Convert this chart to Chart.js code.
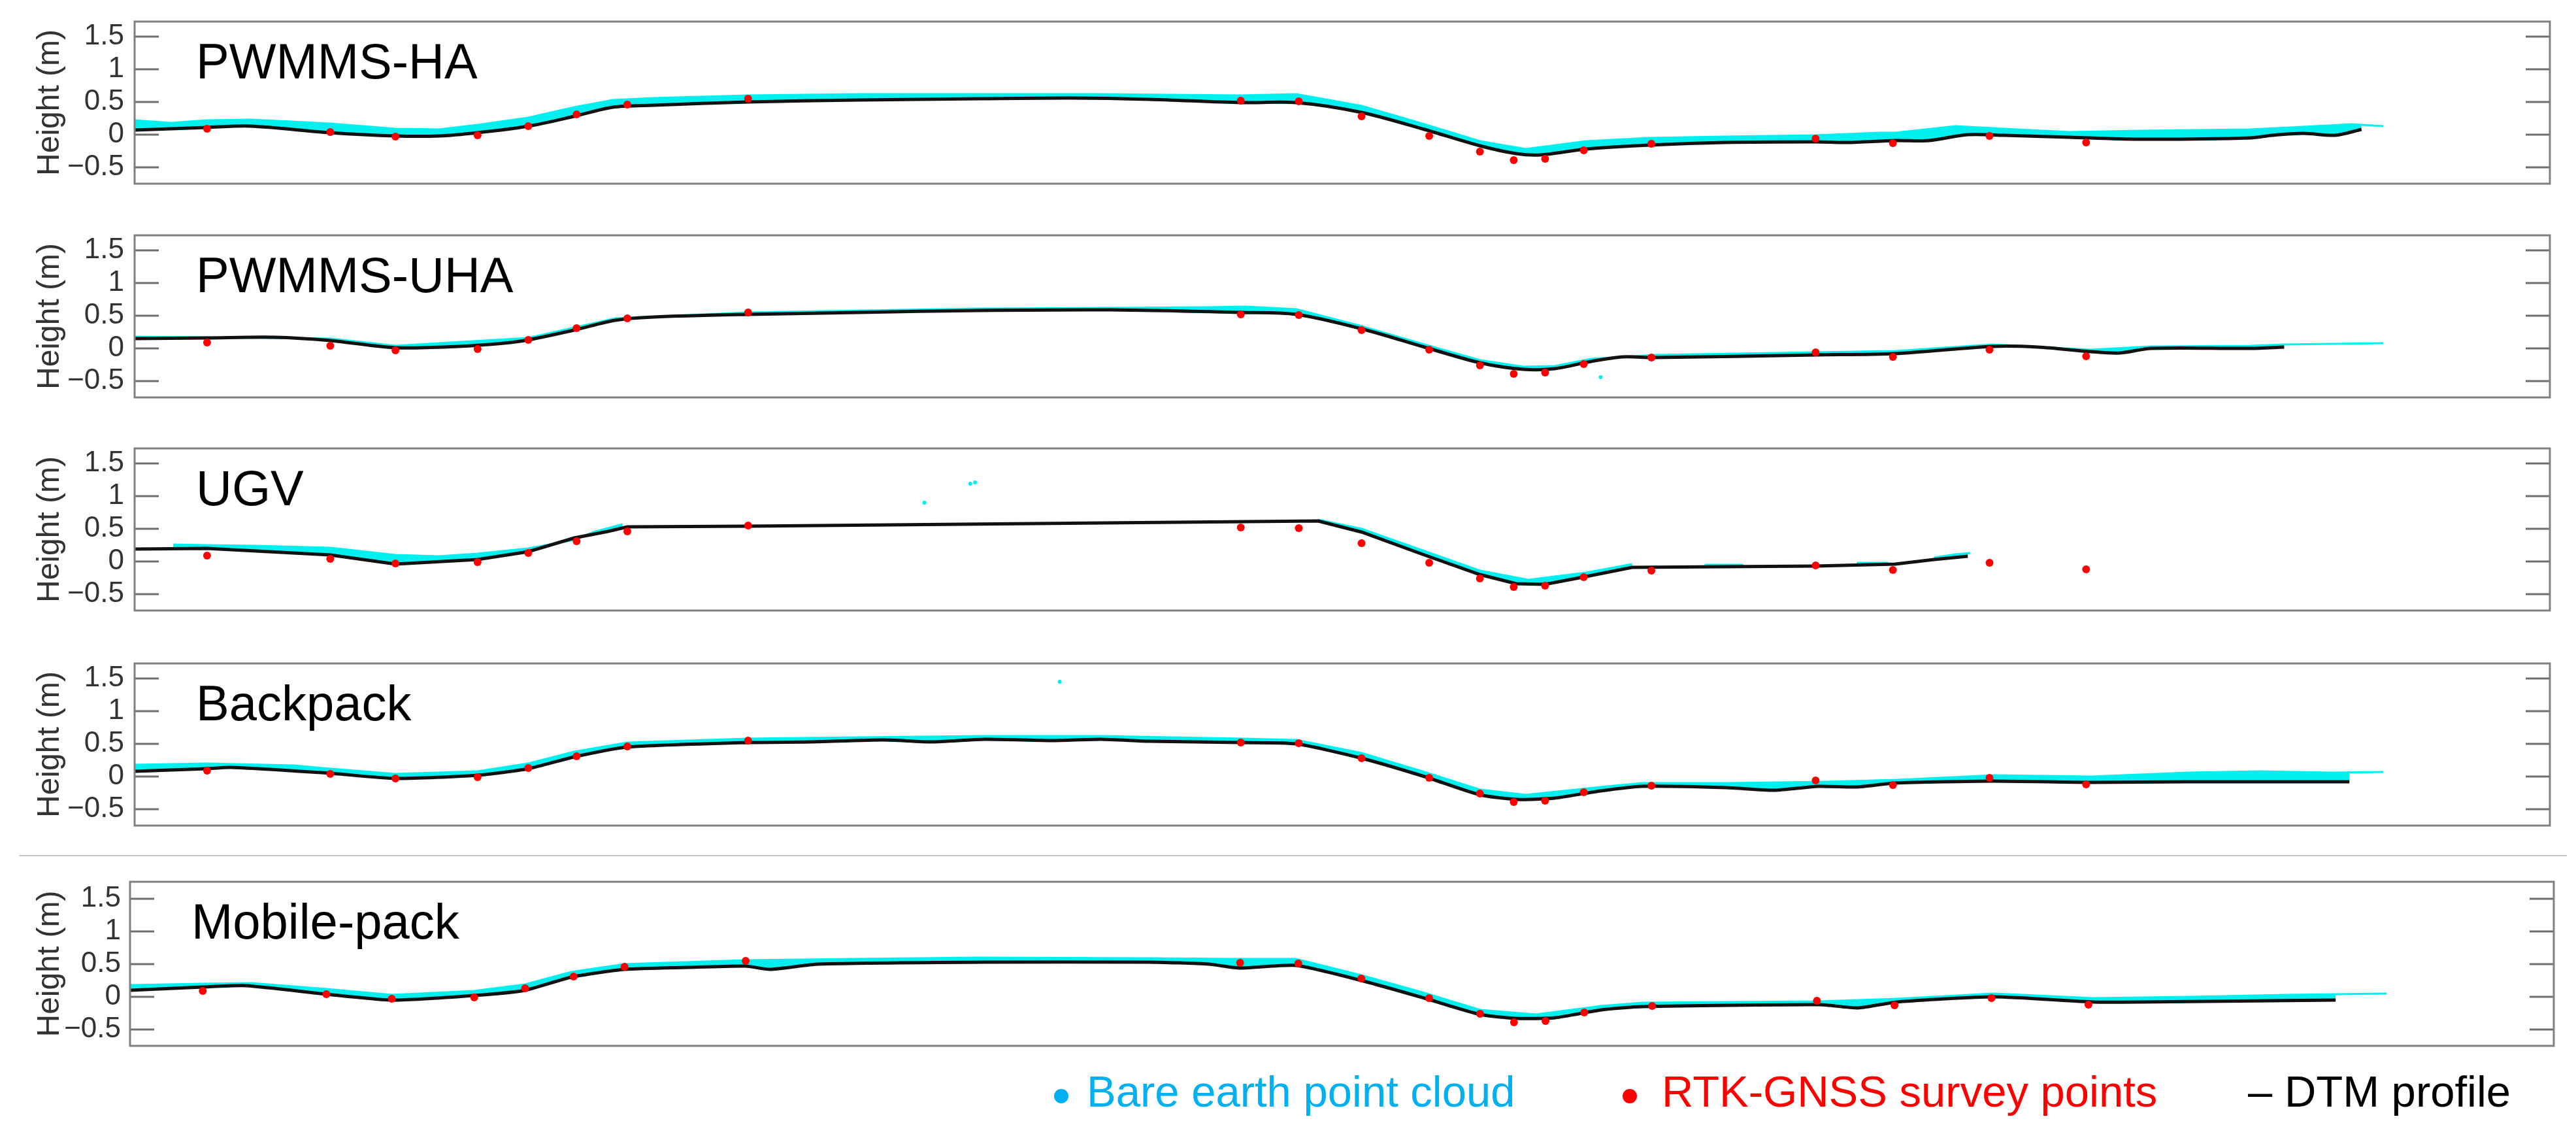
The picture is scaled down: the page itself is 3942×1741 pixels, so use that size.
<!DOCTYPE html>
<html>
<head>
<meta charset="utf-8">
<title>Height profiles</title>
<script src="https://cdn.jsdelivr.net/npm/chart.js@4.4.1/dist/chart.umd.min.js"></script>
<style>
  body { margin: 0; background: #fff; width: 3942px; height: 1741px; position: relative; overflow: hidden;
         font-family: "Liberation Sans", Arial, Helvetica, sans-serif; }
  canvas.panel { position: absolute; left: 0; }
  .sep { position: absolute; left: 29px; top: 1308px; width: 3899px; height: 2px; background: #c8c8c8; }
  .leg { position: absolute; top: 1636px; font-size: 67px; line-height: 67px; white-space: nowrap; }
  .dot { position: absolute; width: 22px; height: 22px; border-radius: 50%; top: 1666px; }
</style>
</head>
<body>

<canvas id="c1" class="panel"></canvas>
<canvas id="c2" class="panel"></canvas>
<canvas id="c3" class="panel"></canvas>
<canvas id="c4" class="panel"></canvas>
<div class="sep"></div>
<canvas id="c5" class="panel"></canvas>

<span class="dot" style="left:1613px;background:#00b0f0"></span>
<div class="leg" style="left:1663px;color:#00b0f0">Bare earth point cloud</div>
<span class="dot" style="left:2483px;background:#ff0000"></span>
<div class="leg" style="left:2543px;color:#ff0000">RTK-GNSS survey points</div>
<div class="leg" style="left:3440px;color:#000">&ndash; DTM profile</div>

<script>
/* ── DATA ─────────────────────────────────────────────────── */
// distance along the profile (arbitrary units 0–100), heights in m
const yTickValues = [-0.5, 0, 0.5, 1, 1.5];
const yTickLabels = ['\u22120.5', '0', '0.5', '1', '1.5'];

// RTK-GNSS survey points (same in every panel)
const rtkX = [3.0, 8.1, 10.8, 14.2, 16.3, 18.3, 20.4, 25.4, 45.8, 48.2, 50.8, 53.6, 55.7, 57.1, 58.4, 60.0, 62.8, 69.6, 72.8, 76.8, 80.8];
const rtkY = [0.09, 0.04, -0.03, -0.01, 0.13, 0.31, 0.46, 0.55, 0.52, 0.51, 0.28, -0.02, -0.26, -0.39, -0.37, -0.24, -0.14, -0.06, -0.13, -0.02, -0.12];

// PWMMS-HA
const haDtmX = [0, 3.0, 4.8, 8.1, 10.8, 12.6, 14.2, 16.3, 18.2, 19.8, 21.5, 25.4, 30.0, 35.0, 38.8, 42.0, 45.8, 48.1, 50.8, 53.4, 55.7, 57.2, 58.2, 60.1, 62.7, 65.8, 69.6, 70.9, 72.9, 74.3, 75.9, 77.4, 80.1, 83.0, 87.6, 88.5, 89.8, 91.1, 92.2];
const haDtmY = [0.07, 0.11, 0.13, 0.03, -0.02, -0.02, 0.03, 0.13, 0.28, 0.42, 0.45, 0.50, 0.53, 0.55, 0.56, 0.54, 0.49, 0.49, 0.34, 0.08, -0.17, -0.29, -0.31, -0.22, -0.16, -0.12, -0.11, -0.12, -0.09, -0.09, 0.0, -0.01, -0.04, -0.07, -0.05, -0.01, 0.02, -0.01, 0.08];
const haCloudX = [0, 1.5, 3.0, 4.8, 6.5, 8.1, 10.8, 12.6, 14.2, 16.3, 18.2, 19.8, 21.5, 25.4, 30.0, 35.0, 40.0, 45.8, 48.1, 50.8, 53.4, 55.7, 57.6, 60.1, 62.7, 65.8, 69.6, 72.3, 72.9, 75.4, 77.4, 80.1, 83.0, 87.6, 89.8, 91.8, 93.1];
const haCloudY = [0.22, 0.18, 0.22, 0.23, 0.20, 0.17, 0.09, 0.08, 0.15, 0.26, 0.42, 0.53, 0.56, 0.60, 0.62, 0.62, 0.62, 0.60, 0.62, 0.44, 0.16, -0.10, -0.22, -0.10, -0.05, -0.03, -0.01, 0.03, 0.03, 0.13, 0.09, 0.04, 0.06, 0.08, 0.12, 0.16, 0.13];

// PWMMS-UHA
const uhaDtmX = [0, 3.0, 5.8, 8.1, 10.8, 13.4, 15.3, 16.3, 18.2, 19.9, 21.5, 25.4, 30.0, 35.0, 40.4, 45.8, 48.1, 50.8, 53.4, 55.7, 57.5, 58.8, 60.3, 61.6, 62.9, 69.6, 72.9, 76.9, 78.8, 81.0, 82.2, 83.5, 87.6, 89.0];
const uhaDtmY = [0.15, 0.16, 0.17, 0.12, 0.01, 0.03, 0.08, 0.13, 0.28, 0.43, 0.48, 0.52, 0.55, 0.58, 0.59, 0.55, 0.52, 0.30, 0.02, -0.22, -0.32, -0.31, -0.20, -0.13, -0.14, -0.10, -0.08, 0.03, 0.02, -0.05, -0.07, 0.0, 0.0, 0.02];
const uhaCloudX = [0, 8.1, 10.8, 16.3, 19.9, 25.4, 35.0, 40.4, 44.5, 46.0, 48.1, 50.8, 53.4, 55.7, 57.5, 58.8, 60.3, 62.9, 69.6, 72.9, 76.9, 81.0, 83.5, 87.6, 89.0, 91.0, 93.1];
const uhaCloudY = [0.18, 0.15, 0.04, 0.16, 0.46, 0.55, 0.61, 0.62, 0.63, 0.64, 0.60, 0.34, 0.06, -0.18, -0.28, -0.27, -0.16, -0.10, -0.06, -0.04, 0.06, -0.02, 0.03, 0.04, 0.06, 0.07, 0.08];
const uhaStrayX = [60.7];
const uhaStrayY = [-0.44];

// UGV
const ugvDtmX = [0, 3.0, 8.1, 10.8, 14.2, 16.3, 18.2, 19.6, 20.4, 25.4, 49.0, 50.8, 53.4, 55.7, 57.2, 58.4, 60.1, 62.0, 69.6, 72.9, 74.5, 75.9];
const ugvDtmY = [0.19, 0.20, 0.10, -0.04, 0.03, 0.15, 0.36, 0.46, 0.53, 0.54, 0.62, 0.45, 0.10, -0.20, -0.34, -0.35, -0.23, -0.09, -0.07, -0.04, 0.03, 0.08];
const ugvCloudX = [1.6, 3.0, 5.0, 8.1, 10.8, 12.6, 14.2, 16.3, 18.2, 19.0, 20.2, 30.0, 49.0, 50.8, 53.4, 55.7, 57.7, 60.1, 62.0, 63.0, 65.0, 66.6, 68.0, 71.3, 72.6, 73.5, 74.5, 75.4, 76.0];
const ugvCloudY = [0.26, 0.25, 0.24, 0.21, 0.10, 0.08, 0.12, 0.20, 0.33, 0.45, 0.57, null, 0.64, 0.50, 0.16, -0.14, -0.28, -0.17, -0.04, null, -0.05, -0.05, null, -0.02, -0.02, null, 0.06, 0.11, 0.13];
const ugvStrayX = [32.7, 34.6, 34.8];
const ugvStrayY = [0.90, 1.19, 1.21];

// Backpack
const bpDtmX = [0, 3.0, 4.0, 8.1, 10.8, 14.2, 16.3, 18.2, 20.4, 25.4, 28.0, 31.0, 33.0, 35.2, 38.0, 40.0, 42.0, 45.8, 48.1, 50.8, 53.4, 55.7, 57.2, 58.8, 60.7, 62.4, 65.9, 67.9, 69.7, 71.3, 72.9, 76.9, 81.0, 85.0, 89.0, 91.7];
const bpDtmY = [0.08, 0.12, 0.14, 0.05, -0.03, 0.02, 0.12, 0.30, 0.45, 0.52, 0.53, 0.56, 0.53, 0.57, 0.55, 0.57, 0.54, 0.52, 0.50, 0.28, 0.0, -0.28, -0.35, -0.33, -0.22, -0.15, -0.17, -0.21, -0.15, -0.16, -0.10, -0.07, -0.09, -0.08, -0.08, -0.08];
const bpCloudX = [0, 3.0, 6.6, 8.1, 10.8, 14.2, 16.3, 18.2, 20.4, 25.4, 30.0, 35.2, 40.0, 45.8, 48.1, 50.8, 53.4, 55.7, 57.6, 60.7, 62.4, 66.0, 70.0, 73.0, 77.0, 81.0, 85.0, 88.0, 91.0, 93.1];
const bpCloudY = [0.18, 0.20, 0.17, 0.12, 0.04, 0.08, 0.20, 0.38, 0.52, 0.58, 0.60, 0.62, 0.62, 0.58, 0.56, 0.36, 0.07, -0.20, -0.28, -0.16, -0.10, -0.10, -0.08, -0.05, 0.02, 0.0, 0.06, 0.08, 0.06, 0.07];
const bpStrayX = [38.3];
const bpStrayY = [1.45];

// Mobile-pack
const mpDtmX = [0, 3.0, 4.8, 8.1, 10.8, 14.2, 16.3, 18.2, 20.4, 23.0, 25.4, 26.4, 28.4, 35.2, 42.0, 44.5, 45.8, 48.1, 50.8, 53.4, 55.7, 57.2, 58.8, 60.7, 62.4, 69.7, 71.3, 72.9, 76.9, 81.0, 82.9, 91.0];
const mpDtmY = [0.10, 0.15, 0.17, 0.04, -0.05, 0.02, 0.10, 0.30, 0.42, 0.45, 0.47, 0.42, 0.50, 0.53, 0.53, 0.50, 0.44, 0.48, 0.25, -0.02, -0.27, -0.33, -0.32, -0.20, -0.15, -0.12, -0.17, -0.08, 0.0, -0.08, -0.08, -0.05];
const mpCloudX = [0, 3.0, 5.0, 8.1, 10.8, 14.2, 16.3, 18.2, 20.4, 25.4, 30.0, 35.0, 42.0, 45.8, 48.1, 50.8, 53.4, 55.7, 58.0, 60.7, 62.4, 69.7, 72.9, 76.9, 81.0, 85.0, 89.0, 91.0, 93.1];
const mpCloudY = [0.18, 0.20, 0.21, 0.12, 0.03, 0.09, 0.19, 0.38, 0.50, 0.56, 0.58, 0.60, 0.59, 0.58, 0.58, 0.33, 0.06, -0.20, -0.27, -0.14, -0.09, -0.07, -0.03, 0.05, -0.02, 0.0, 0.03, 0.04, 0.05];

/* ── LAYOUT ───────────────────────────────────────────────── */
const FONT = '"Liberation Sans", Arial, Helvetica, sans-serif';
const MARGIN = 60;   // spare canvas room above/below each axes box
const CYAN = '#00f0f0';

const panels = [
  { id: 'c1', name: 'PWMMS-HA',  top: 33,   h: 248, left: 206, right: 3902, yMin: -0.75, yMax: 1.73, tickPad: 16,
    dtm: [haDtmX, haDtmY],   cloud: [haCloudX, haCloudY],   stray: [[], []], tension: 0.3 },
  { id: 'c2', name: 'PWMMS-UHA', top: 360,  h: 248, left: 206, right: 3902, yMin: -0.75, yMax: 1.73, tickPad: 16,
    dtm: [uhaDtmX, uhaDtmY], cloud: [uhaCloudX, uhaCloudY], stray: [uhaStrayX, uhaStrayY], tension: 0.3 },
  { id: 'c3', name: 'UGV',       top: 686,  h: 248, left: 206, right: 3902, yMin: -0.75, yMax: 1.73, tickPad: 16,
    dtm: [ugvDtmX, ugvDtmY], cloud: [ugvCloudX, ugvCloudY], stray: [ugvStrayX, ugvStrayY], tension: 0 },
  { id: 'c4', name: 'Backpack',  top: 1015, h: 248, left: 206, right: 3902, yMin: -0.75, yMax: 1.73, tickPad: 16,
    dtm: [bpDtmX, bpDtmY],   cloud: [bpCloudX, bpCloudY],   stray: [bpStrayX, bpStrayY], tension: 0.2 },
  { id: 'c5', name: 'Mobile-pack', top: 1349, h: 251, left: 199, right: 3908, yMin: -0.75, yMax: 1.76, tickPad: 14,
    dtm: [mpDtmX, mpDtmY],   cloud: [mpCloudX, mpCloudY],   stray: [[], []], tension: 0.2 }
];

const toPoints = (xs, ys) => xs.map((x, i) => ({ x, y: ys[i] }));

/* ── AXES BOX, INWARD TICKS, PANEL LABEL ──────────────────── */
const frame = {
  id: 'frame',
  afterDraw(chart, args, opts) {
    const { ctx, chartArea: a } = chart;
    const y = chart.scales.y;
    ctx.save();
    ctx.strokeStyle = '#6e6e6e';
    ctx.lineWidth = 3;
    yTickValues.forEach(v => {
      const py = Math.round(y.getPixelForValue(v));
      ctx.beginPath();
      ctx.moveTo(a.left, py);  ctx.lineTo(a.left + 37, py);
      ctx.moveTo(a.right, py); ctx.lineTo(a.right - 37, py);
      ctx.stroke();
    });
    ctx.strokeStyle = '#808080';
    ctx.strokeRect(a.left, a.top, a.right - a.left, a.bottom - a.top);
    ctx.fillStyle = '#000';
    ctx.font = '76px ' + FONT;
    ctx.textBaseline = 'alphabetic';
    ctx.fillText(opts.name, a.left + 94, a.top + 87);
    ctx.restore();
  }
};

/* ── BUILD ────────────────────────────────────────────────── */
panels.forEach(p => {
  const cv = document.getElementById(p.id);
  cv.width = 3942;
  cv.height = p.h + 2 * MARGIN;
  cv.style.top = (p.top - MARGIN) + 'px';

  new Chart(cv, {
    type: 'line',
    data: {
      datasets: [
        { label: 'Bare earth point cloud', data: toPoints(p.cloud[0], p.cloud[1]),
          borderColor: CYAN, backgroundColor: CYAN, borderWidth: 3, pointRadius: 0,
          fill: '+1', tension: 0, order: 3 },
        { label: 'DTM profile', data: toPoints(p.dtm[0], p.dtm[1]),
          borderColor: '#111', borderWidth: 5, pointRadius: 0, fill: false,
          tension: p.tension, order: 1 },
        { label: 'RTK-GNSS survey points', data: toPoints(rtkX, rtkY),
          showLine: false, pointRadius: 6, pointBackgroundColor: '#ff0000', pointBorderWidth: 0,
          borderColor: '#ff0000', order: 0 },
        { label: 'stray', data: toPoints(p.stray[0], p.stray[1]),
          showLine: false, pointRadius: 3, pointBackgroundColor: CYAN, pointBorderWidth: 0, order: 2 }
      ]
    },
    options: {
      responsive: false,
      devicePixelRatio: 1,
      animation: false,
      events: [],
      layout: { padding: { top: MARGIN, bottom: MARGIN, left: 0, right: 3942 - p.right } },
      plugins: {
        legend: { display: false },
        tooltip: { enabled: false },
        frame: { name: p.name }
      },
      scales: {
        x: { type: 'linear', min: 0, max: 100, display: false },
        y: {
          min: p.yMin, max: p.yMax,
          afterFit: s => { s.width = p.left; },
          afterBuildTicks: s => { s.ticks = yTickValues.map(v => ({ value: v })); },
          grid: { display: false, drawTicks: false },
          border: { display: false },
          ticks: {
            font: { size: 44, family: FONT }, color: '#333', padding: p.tickPad,
            callback: v => yTickLabels[yTickValues.indexOf(v)]
          },
          title: { display: true, text: 'Height (m)', color: '#333',
                   font: { size: 48, family: FONT }, padding: { top: 48, bottom: 0 } }
        }
      }
    },
    plugins: [frame]
  });
});
</script>
</body>
</html>
